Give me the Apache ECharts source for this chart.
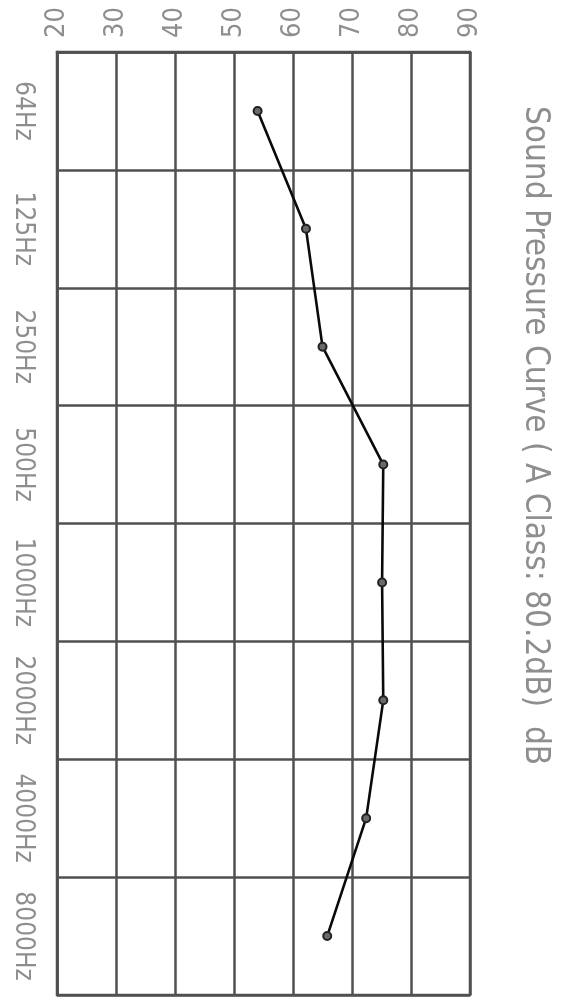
<!DOCTYPE html>
<html>
<head>
<meta charset="utf-8">
<script src="https://cdn.jsdelivr.net/npm/echarts@6/dist/echarts.min.js"></script>
<style>
html,body{margin:0;padding:0;background:#ffffff;}
#chart{width:561px;height:998px;}
</style>
</head>
<body>
<div id="chart"></div>
<script>
// ---- data ----
const categories = ['64Hz', '125Hz', '250Hz', '500Hz', '1000Hz', '2000Hz', '4000Hz', '8000Hz'];
const soundPressure = [54, 62.2, 65, 75.3, 75.1, 75.3, 72.4, 65.8];
const valueMin = 20;
const valueMax = 90;
const valueStep = 10;
const titleText = 'Sound Pressure Curve ( A Class: 80.2dB)  dB';

// ---- styles ----
const FONT = '"Liberation Sans Narrow", "DejaVu Sans Condensed", "Roboto", sans-serif';
const TEXT_COLOR = '#8e8e8e';
const GRID_COLOR = '#505050';

const chart = echarts.init(document.getElementById('chart'), null, { renderer: 'canvas' });

chart.setOption({
  backgroundColor: '#ffffff',
  animation: false,
  grid: {
    left: 57, right: 91, top: 52, bottom: 3,
    show: true, borderColor: GRID_COLOR, borderWidth: 2.5,
    containLabel: false
  },
  xAxis: {
    type: 'value',
    position: 'top',
    min: valueMin,
    max: valueMax,
    interval: valueStep,
    axisLine: { show: true, lineStyle: { color: GRID_COLOR, width: 2.5 } },
    axisTick: { show: false },
    axisLabel: {
      rotate: -90,
      margin: 14,
      color: TEXT_COLOR,
      fontFamily: FONT,
      fontSize: 27
    },
    splitLine: { show: true, lineStyle: { color: GRID_COLOR, width: 2.5 } }
  },
  yAxis: {
    type: 'category',
    inverse: true,
    boundaryGap: true,
    data: categories,
    axisLine: { show: true, lineStyle: { color: GRID_COLOR, width: 2.5 } },
    axisTick: { show: false, interval: 0 },
    axisLabel: {
      interval: 0,
      hideOverlap: false,
      rotate: -90,
      margin: 21,
      color: TEXT_COLOR,
      fontFamily: FONT,
      fontSize: 26
    },
    splitLine: { show: true, interval: 0, lineStyle: { color: GRID_COLOR, width: 2.5 } }
  },
  graphic: [{
    type: 'text',
    x: 535,
    y: 106,
    rotation: -Math.PI / 2,
    style: {
      text: titleText,
      fontFamily: FONT,
      fontSize: 33,
      fill: TEXT_COLOR,
      align: 'left',
      verticalAlign: 'middle',
      textAlign: 'left',
      textVerticalAlign: 'middle'
    }
  }],
  series: [{
    type: 'line',
    data: soundPressure,
    symbol: 'circle',
    symbolSize: 8,
    lineStyle: { color: '#0a0a0a', width: 2.6 },
    itemStyle: { color: '#6a6a6a', borderColor: '#222222', borderWidth: 2 },
    z: 5
  }]
});
</script>
</body>
</html>
